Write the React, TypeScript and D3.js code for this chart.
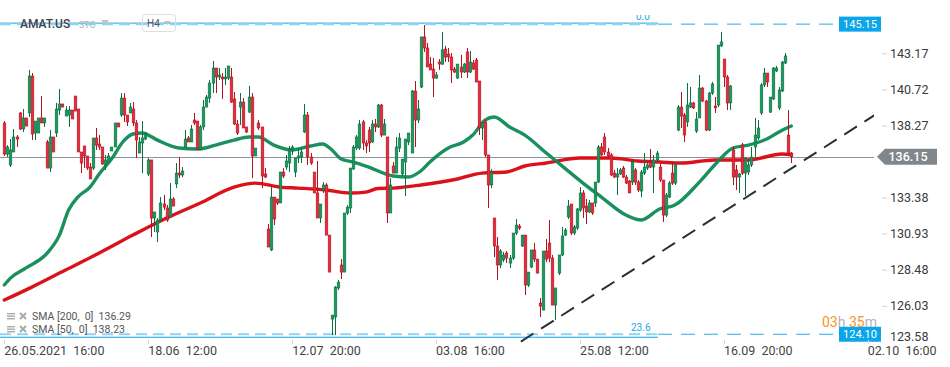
import React, { useRef, useEffect } from 'react';
import * as d3 from 'd3';

// H4 candles, AMAT.US
const opens = [138.44, 136.33, 135.59, 136.47, 137.49, 139.12, 138.03, 138.78, 139.12, 141.63,
  137.76, 137.76, 138.78, 138.44, 137.15, 135.38, 137.49, 137.76, 139.32, 139.73,
  138.91, 138.98, 139.32, 140.27, 139.39, 136.47, 136.88, 136.20, 135.45, 135.38,
  137.42, 137.01, 136.81, 135.59, 135.79, 136.54, 136.81, 138.44, 138.98, 140.13,
  138.98, 139.12, 139.39, 138.44, 136.40, 137.08, 137.35, 134.98, 135.93, 131.99,
  131.04, 131.85, 132.94, 132.67, 132.06, 133.28, 134.30, 135.04, 134.91, 136.81,
  137.42, 137.15, 138.64, 138.57, 136.67, 138.17, 139.52, 140.13, 141.15, 142.17,
  141.56, 141.56, 141.43, 141.49, 141.56, 140.07, 138.37, 139.52, 139.86, 138.17,
  139.18, 140.20, 136.20, 138.44, 138.17, 134.98, 131.24, 129.82, 133.41, 133.28,
  133.01, 135.11, 135.45, 135.72, 136.61, 135.11, 136.06, 136.13, 137.83, 138.98,
  136.13, 135.11, 133.69, 131.99, 133.89, 134.23, 130.83, 125.13, 125.27, 127.24,
  128.80, 128.32, 132.33, 132.67, 135.32, 136.74, 136.74, 138.51, 137.08, 137.96,
  137.15, 138.37, 138.17, 139.66, 137.62, 137.49, 132.33, 135.52, 135.04, 136.74,
  134.98, 135.79, 137.15, 136.40, 140.61, 138.64, 140.88, 144.28, 143.53, 142.44,
  142.10, 141.49, 142.58, 142.44, 143.46, 143.12, 142.92, 142.10, 141.49, 142.24,
  141.90, 143.26, 141.90, 142.51, 142.72, 141.29, 138.10, 138.51, 136.27, 134.23,
  131.99, 130.09, 128.80, 129.14, 129.61, 128.93, 129.27, 130.97, 131.44, 130.09,
  130.83, 127.44, 128.66, 129.82, 129.20, 126.22, 125.74, 129.75, 130.29, 129.27,
  126.08, 128.25, 129.48, 130.83, 132.06, 132.94, 130.97, 131.31, 132.53, 133.69,
  132.80, 132.40, 133.01, 133.01, 134.43, 136.81, 137.49, 136.47, 136.27, 135.04,
  134.77, 134.98, 135.38, 134.77, 134.50, 134.43, 135.25, 134.43, 133.82, 135.04,
  135.38, 135.79, 135.45, 135.93, 135.45, 134.57, 132.19, 133.41, 135.04, 134.36,
  137.96, 139.52, 138.98, 138.51, 139.52, 139.80, 137.89, 138.78, 140.81, 139.93,
  137.96, 140.47, 139.59, 139.66, 143.67, 142.78, 141.56, 139.80, 136.61, 135.25,
  134.77, 136.94, 135.04, 135.11, 135.59, 136.81, 137.42, 139.12, 141.02, 141.83,
  139.18, 140.07, 141.97, 139.46, 140.61, 142.51, 137.62, 136.40];

const highs = [138.57, 136.94, 137.35, 138.03, 137.62, 139.18, 139.39, 138.78, 142.04, 141.83,
  138.57, 138.78, 140.27, 138.78, 137.28, 137.96, 137.49, 139.80, 140.75, 139.73,
  139.59, 139.59, 139.32, 140.27, 139.39, 136.47, 136.88, 136.20, 135.72, 137.42,
  138.10, 137.62, 136.81, 136.27, 136.40, 136.81, 138.44, 138.44, 140.47, 140.47,
  138.98, 139.80, 139.86, 138.64, 137.49, 138.57, 137.83, 136.06, 135.93, 132.40,
  131.99, 133.41, 133.55, 132.87, 134.36, 133.41, 135.72, 136.13, 135.45, 137.96,
  137.56, 138.30, 139.12, 138.57, 138.30, 140.00, 140.34, 141.36, 142.65, 142.17,
  142.17, 141.83, 142.17, 142.31, 142.17, 140.54, 138.64, 140.47, 140.13, 138.17,
  140.95, 140.47, 136.74, 138.64, 138.17, 135.38, 131.58, 134.09, 133.41, 133.28,
  135.11, 135.38, 136.27, 136.88, 136.94, 136.06, 136.74, 136.81, 139.73, 139.18,
  136.40, 135.11, 135.86, 132.94, 134.43, 134.36, 130.83, 125.40, 127.37, 127.78,
  129.20, 132.33, 132.87, 135.38, 136.94, 137.62, 138.64, 138.64, 137.28, 138.17,
  138.64, 138.71, 139.73, 139.73, 138.71, 137.49, 134.70, 135.79, 137.49, 137.76,
  135.99, 137.35, 137.76, 140.68, 141.29, 140.00, 144.28, 145.09, 143.87, 142.92,
  142.85, 141.90, 142.78, 144.62, 143.67, 143.53, 143.19, 142.24, 142.44, 143.06,
  142.51, 143.53, 143.33, 142.72, 142.85, 141.29, 138.51, 138.64, 136.27, 135.32,
  131.99, 130.70, 129.88, 129.68, 129.75, 129.48, 130.97, 131.92, 131.58, 130.83,
  130.83, 128.32, 129.82, 130.29, 129.20, 126.56, 129.75, 130.56, 131.85, 129.48,
  127.24, 129.48, 131.38, 131.31, 133.21, 132.94, 131.51, 132.67, 134.09, 133.89,
  133.28, 133.21, 133.01, 134.43, 136.94, 137.08, 137.76, 136.74, 136.40, 135.25,
  135.38, 135.38, 135.52, 134.91, 134.57, 135.93, 135.38, 134.57, 135.25, 136.40,
  135.72, 136.67, 136.27, 136.54, 135.66, 134.57, 133.69, 134.50, 135.79, 135.72,
  139.66, 140.54, 139.12, 141.15, 140.88, 139.86, 139.18, 141.70, 140.88, 140.00,
  140.54, 141.22, 140.20, 143.73, 144.62, 142.78, 141.70, 141.02, 136.81, 135.59,
  135.04, 137.08, 136.13, 135.93, 136.81, 138.78, 138.64, 141.15, 142.17, 141.83,
  140.20, 142.24, 142.31, 140.88, 142.65, 143.19, 139.32, 136.47];

const lows = [136.20, 136.13, 135.45, 136.47, 136.81, 137.96, 137.83, 138.23, 138.85, 137.28,
  137.28, 137.76, 138.44, 138.17, 135.38, 135.11, 136.47, 137.49, 138.98, 139.52,
  138.91, 138.17, 138.71, 139.25, 136.47, 135.04, 135.38, 135.25, 134.64, 135.25,
  136.61, 136.61, 135.59, 135.25, 135.72, 136.54, 136.81, 138.17, 138.85, 138.51,
  138.23, 139.12, 138.23, 136.06, 136.40, 135.04, 137.28, 134.84, 130.70, 131.04,
  130.36, 131.72, 132.53, 131.72, 132.06, 132.80, 134.02, 134.70, 134.77, 136.81,
  137.15, 137.15, 138.30, 136.61, 136.61, 137.96, 139.52, 139.80, 140.47, 140.47,
  141.36, 140.07, 141.02, 141.36, 139.80, 138.30, 137.62, 138.30, 138.10, 137.76,
  139.12, 134.70, 136.20, 137.96, 134.02, 134.70, 130.02, 129.75, 131.51, 132.87,
  133.01, 134.70, 135.25, 135.11, 136.27, 134.77, 135.72, 135.72, 137.76, 135.59,
  135.59, 133.69, 131.99, 131.65, 133.69, 130.83, 128.32, 124.04, 124.04, 127.10,
  127.85, 128.32, 132.19, 132.33, 135.25, 136.61, 136.61, 136.61, 136.40, 136.47,
  137.08, 137.83, 138.10, 137.49, 137.62, 131.65, 132.33, 135.04, 135.04, 136.47,
  134.84, 133.48, 136.94, 136.40, 136.81, 138.44, 140.81, 143.26, 142.24, 142.04,
  140.20, 141.43, 142.04, 142.38, 142.58, 142.58, 141.15, 141.83, 141.43, 141.49,
  141.83, 141.49, 141.83, 142.04, 141.22, 137.62, 137.28, 136.13, 132.67, 134.02,
  129.34, 127.78, 128.59, 129.00, 128.93, 128.59, 129.14, 130.83, 131.17, 130.02,
  126.76, 127.30, 128.59, 129.00, 128.25, 125.27, 125.74, 129.00, 129.00, 126.08,
  125.06, 128.12, 129.41, 130.77, 131.92, 130.83, 130.83, 131.17, 132.40, 131.99,
  131.58, 132.33, 132.19, 132.73, 134.36, 136.20, 136.27, 136.06, 134.84, 134.70,
  133.55, 134.91, 134.70, 134.30, 133.69, 134.23, 134.23, 133.75, 133.41, 134.91,
  135.25, 135.38, 133.69, 135.79, 134.43, 131.72, 132.06, 133.35, 134.23, 134.23,
  137.89, 138.10, 137.15, 138.17, 139.46, 139.39, 137.76, 138.78, 139.86, 137.89,
  137.89, 140.34, 139.12, 139.52, 143.60, 140.88, 139.32, 139.32, 134.23, 133.89,
  133.69, 134.91, 133.48, 134.91, 135.45, 136.13, 137.28, 138.98, 140.88, 140.88,
  139.12, 140.00, 141.90, 139.32, 140.54, 142.44, 136.27, 135.72];

const closes = [136.33, 136.81, 136.61, 137.49, 137.35, 138.03, 138.78, 138.23, 141.63, 137.69,
  138.57, 138.78, 138.44, 138.78, 135.38, 137.49, 136.47, 139.39, 139.73, 139.52,
  139.32, 139.32, 138.71, 139.25, 136.47, 135.72, 136.20, 135.38, 134.64, 137.42,
  136.94, 136.81, 135.66, 135.93, 136.20, 136.81, 138.44, 138.17, 140.13, 138.98,
  138.51, 139.52, 138.44, 137.28, 137.15, 137.42, 137.69, 135.93, 131.99, 132.40,
  131.85, 133.01, 132.73, 131.85, 133.28, 132.80, 135.04, 134.91, 135.18, 137.35,
  137.15, 138.03, 138.44, 136.67, 138.17, 139.52, 140.20, 141.15, 142.17, 141.56,
  141.70, 141.43, 141.56, 142.31, 139.86, 138.37, 137.76, 139.86, 138.10, 137.83,
  140.20, 136.20, 136.74, 138.10, 134.84, 134.77, 130.02, 133.41, 131.92, 133.01,
  135.11, 134.84, 135.86, 136.67, 136.81, 136.06, 136.20, 136.47, 138.98, 136.13,
  135.72, 133.69, 131.99, 132.94, 134.23, 130.83, 128.32, 125.40, 127.30, 127.64,
  128.32, 132.33, 132.73, 135.38, 136.81, 137.49, 138.37, 137.08, 136.88, 137.08,
  138.37, 138.17, 139.66, 137.62, 138.37, 132.33, 134.23, 135.04, 136.81, 137.42,
  135.99, 137.35, 137.76, 140.61, 138.64, 139.39, 144.28, 143.53, 142.24, 142.04,
  141.49, 141.70, 142.44, 143.40, 142.92, 142.92, 142.04, 141.90, 142.44, 141.90,
  142.44, 141.90, 142.58, 142.10, 141.22, 138.10, 138.44, 136.27, 134.23, 135.11,
  130.09, 128.80, 129.75, 129.48, 129.27, 129.27, 130.97, 131.51, 131.31, 130.83,
  127.44, 128.32, 129.82, 129.20, 128.25, 126.01, 129.75, 129.20, 129.27, 126.08,
  127.24, 129.48, 130.77, 131.17, 132.80, 130.97, 131.38, 132.60, 133.69, 132.67,
  132.40, 133.01, 132.33, 134.43, 136.81, 136.27, 136.47, 136.20, 134.91, 134.77,
  134.98, 135.25, 134.77, 134.36, 133.69, 135.79, 134.43, 133.89, 135.11, 135.45,
  135.59, 135.45, 135.93, 136.40, 134.57, 132.19, 133.55, 134.36, 134.36, 135.59,
  139.52, 138.91, 137.62, 139.66, 139.80, 139.46, 138.71, 140.81, 139.93, 137.96,
  140.47, 141.09, 139.46, 143.73, 143.94, 141.56, 139.80, 140.95, 134.77, 134.77,
  134.98, 135.04, 136.06, 135.59, 136.13, 137.62, 138.10, 141.02, 141.83, 141.22,
  140.20, 142.17, 142.17, 140.68, 142.58, 142.99, 136.40, 136.15];

// SMA readings as [candle index, value]
const sma50 = [[0, 127.44], [2, 127.91], [7, 128.59], [14, 129.61], [18, 130.83], [21, 132.53],
  [24, 133.41], [28, 134.09], [31, 134.98], [35, 135.99], [39, 137.22], [42, 137.69], [45, 137.76],
  [50, 137.28], [57, 136.74], [63, 136.67], [69, 136.94], [75, 137.28], [80, 137.49], [83, 137.49],
  [88, 136.94], [94, 136.61], [100, 136.88], [104, 137.01], [107, 136.61], [110, 135.99], [114, 135.79],
  [119, 135.45], [127, 134.84], [132, 134.77], [136, 135.18], [139, 135.79], [145, 136.74], [150, 137.15],
  [153, 137.62], [157, 138.64], [160, 138.85], [165, 138.17], [170, 137.62], [177, 136.40], [183, 135.38],
  [189, 134.36], [195, 133.41], [203, 132.19], [208, 131.85], [214, 132.60], [219, 132.87], [227, 134.43],
  [232, 135.59], [238, 136.74], [243, 136.94], [249, 137.35], [253, 137.83], [257, 138.23]];

const sma200 = [[0, 126.42], [9, 127.30], [20, 128.46], [31, 129.61], [42, 130.83], [53, 131.99],
  [64, 133.01], [75, 134.09], [82, 134.36], [90, 134.09], [96, 134.02], [105, 133.89], [113, 133.69],
  [118, 133.75], [122, 133.99], [127, 134.02], [136, 134.23], [148, 134.64], [156, 135.04], [164, 135.11],
  [170, 135.52], [177, 135.72], [188, 136.06], [198, 136.06], [207, 135.86], [214, 135.79], [221, 135.72],
  [232, 135.93], [243, 135.93], [254, 136.33], [257, 136.29]];

const priceTicks = [143.17, 140.72, 138.27, 133.38, 130.93, 128.48, 126.03, 123.58];
const dateTicks = [0, 47, 94, 141, 188, 235, 282];
const dateLabels = ['26.05.2021  16:00', '18.06  12:00', '12.07  20:00', '03.08  16:00',
  '25.08  12:00', '16.09  20:00', '02.10  16:00'];
const lastPrice = 136.15;
const levelTop = 145.15;
const levelBottom = 124.10;
const trendLine = [[168.7, 123.60], [286.6, 139.29]];

export default function App() {
  const ref = useRef<SVGSVGElement>(null);

  useEffect(() => {
    const svg = d3.select(ref.current);
    svg.selectAll('*').remove();

    const width = 950;
    const height = 367;
    const font = 'Roboto, "Noto Sans", sans-serif';

    const x = d3.scaleLinear().domain([0, 282]).range([4.3, 867.8]);
    const y = d3.scaleLinear().domain([143.17, 123.58]).range([53.3, 341.9]);

    svg.attr('width', width).attr('height', height).style('font-family', font);
    svg.append('rect').attr('width', width).attr('height', height).attr('fill', '#fff');

    svg.append('defs').append('clipPath').attr('id', 'plot')
      .append('rect').attr('x', 0).attr('y', 15).attr('width', 874).attr('height', 329);

    const plot = svg.append('g').attr('clip-path', 'url(#plot)');

    // fibo style levels (solid) + price level lines (dashed)
    const fiboEnd = 658;
    [levelTop, levelBottom].forEach((lv, k) => {
      const yy = y(lv);
      const solidY = k === 0 ? yy - 1 : yy + 3;
      plot.append('line').attr('x1', 0).attr('x2', fiboEnd)
        .attr('y1', solidY).attr('y2', solidY)
        .attr('stroke', '#10a4ea').attr('stroke-width', 1);
      plot.append('line').attr('x1', 0).attr('x2', fiboEnd)
        .attr('y1', yy).attr('y2', yy)
        .attr('stroke', '#8fd4f6').attr('stroke-width', 2)
        .attr('stroke-dasharray', '11,6');
      plot.append('line').attr('x1', fiboEnd).attr('x2', 838)
        .attr('y1', yy).attr('y2', yy)
        .attr('stroke', '#2aa8e8').attr('stroke-width', 1)
        .attr('stroke-dasharray', '14,9');
    });
    plot.append('text').attr('x', 631).attr('y', y(levelBottom) - 3)
      .attr('font-size', 10).attr('fill', '#1ea6ea').text('23.6');
    plot.append('text').attr('x', 636).attr('y', y(levelTop) - 4)
      .attr('font-size', 10).attr('fill', '#1ea6ea').text('0.0');

    // last price line
    plot.append('line').attr('x1', 0).attr('x2', 878)
      .attr('y1', Math.round(y(lastPrice)) + 0.5).attr('y2', Math.round(y(lastPrice)) + 0.5)
      .attr('stroke', '#8e9499').attr('stroke-width', 1);

    // moving averages
    const line = d3.line<number[]>()
      .x(d => x(d[0]))
      .y(d => y(d[1]))
      .curve(d3.curveMonotoneX);
    plot.append('path').attr('d', line(sma200)).attr('fill', 'none')
      .attr('stroke', '#d8050f').attr('stroke-width', 3.4)
      .attr('stroke-linecap', 'round').attr('stroke-opacity', 0.95);
    plot.append('path').attr('d', line(sma50)).attr('fill', 'none')
      .attr('stroke', '#0f8a56').attr('stroke-width', 3.4)
      .attr('stroke-linecap', 'round').attr('stroke-opacity', 0.95);

    // candles
    const candles = closes.map((c, i) => ({ i, o: opens[i], h: highs[i], l: lows[i], c }));
    const cg = plot.append('g');
    const up = (d: any) => d.c >= d.o;
    cg.selectAll('line.wick').data(candles).join('line')
      .attr('class', 'wick')
      .attr('x1', d => Math.round(x(d.i)) + 0.5).attr('x2', d => Math.round(x(d.i)) + 0.5)
      .attr('y1', d => y(d.h)).attr('y2', d => y(d.l))
      .attr('stroke', d => (up(d) ? '#0c6e41' : '#b3121f')).attr('stroke-width', 1);
    cg.selectAll('rect.body').data(candles).join('rect')
      .attr('class', 'body')
      .attr('x', d => Math.round(x(d.i)) - 0.8)
      .attr('width', 2.6)
      .attr('y', d => y(Math.max(d.o, d.c)))
      .attr('height', d => Math.max(1, Math.abs(y(d.o) - y(d.c))))
      .attr('fill', d => (up(d) ? '#1b9a60' : '#e52c3c'))
      .attr('stroke', d => (up(d) ? '#0c6e41' : '#b3121f'))
      .attr('stroke-width', 0.6);

    // trend line
    plot.append('line')
      .attr('x1', x(trendLine[0][0])).attr('y1', y(trendLine[0][1]))
      .attr('x2', x(trendLine[1][0])).attr('y2', y(trendLine[1][1]))
      .attr('stroke', '#2b2f33').attr('stroke-width', 2)
      .attr('stroke-dasharray', '15,9');

    // price axis
    const axis = svg.append('g');
    priceTicks.forEach(t => {
      const ty = Math.min(y(t), 336);
      if (y(t) < 338) {
        axis.append('line').attr('x1', 882).attr('x2', 887)
          .attr('y1', ty + 0.5).attr('y2', ty + 0.5).attr('stroke', '#d4d4d4');
      }
      axis.append('text').attr('x', 890).attr('y', ty).attr('dy', '0.36em')
        .attr('font-size', 12.5).attr('fill', '#3a3a3a').text(t.toFixed(2));
    });

    // blue price level labels
    [levelTop, levelBottom].forEach(lv => {
      const yy = y(lv);
      axis.append('rect').attr('x', 839).attr('y', yy - 7.5).attr('width', 42).attr('height', 15)
        .attr('fill', '#0ba5ea');
      axis.append('text').attr('x', 860).attr('y', yy).attr('dy', '0.36em')
        .attr('text-anchor', 'middle').attr('font-size', 11).attr('fill', '#fff')
        .text(lv.toFixed(2));
    });

    // last price tag
    const ly = y(lastPrice);
    axis.append('path')
      .attr('d', `M877,${ly} L885,${ly - 8} L937,${ly - 8} L937,${ly + 8} L885,${ly + 8} Z`)
      .attr('fill', '#7f878c');
    axis.append('text').attr('x', 908).attr('y', ly).attr('dy', '0.36em')
      .attr('text-anchor', 'middle').attr('font-size', 12.5).attr('font-weight', 500)
      .attr('fill', '#fff').text(lastPrice.toFixed(2));

    // date axis
    dateTicks.forEach((t, k) => {
      const tx = Math.round(x(t)) + 0.5;
      svg.append('line').attr('x1', tx).attr('x2', tx).attr('y1', 340).attr('y2', 344)
        .attr('stroke', '#d4d4d4');
      svg.append('text').attr('x', x(t)).attr('y', 355)
        .attr('font-size', 12.5).attr('fill', '#444')
        .attr('xml:space', 'preserve').style('white-space', 'pre')
        .text(dateLabels[k]);
    });

    // countdown
    const cd = svg.append('text').attr('x', 822).attr('y', 327).attr('font-size', 14);
    cd.append('tspan').attr('fill', '#f7931e').text('03');
    cd.append('tspan').attr('fill', '#b5b5b5').text('h ');
    cd.append('tspan').attr('fill', '#f7931e').text('35');
    cd.append('tspan').attr('fill', '#b5b5b5').text('m');

    // legend
    const legend = [['SMA [200,  0]  ', sma200[sma200.length - 1][1]], ['SMA [50,  0]  ', sma50[sma50.length - 1][1]]];
    legend.forEach((d, k) => {
      const ly0 = 319 + k * 13;
      const g = svg.append('g');
      [0, 2.5, 5].forEach(o => {
        g.append('rect').attr('x', 7).attr('y', ly0 - 6 + o).attr('width', 8).attr('height', 1.4)
          .attr('fill', '#a9a9a9');
      });
      g.append('path').attr('d', `M20,${ly0 - 6} L26,${ly0} M26,${ly0 - 6} L20,${ly0}`)
        .attr('stroke', '#a9a9a9').attr('stroke-width', 2);
      g.append('text').attr('x', 32).attr('y', ly0 + 1).attr('font-size', 10.5).attr('fill', '#555')
        .style('white-space', 'pre').text(`${d[0]}${(d[1] as number).toFixed(2)}`);
    });

    // header
    const head = svg.append('g');
    head.append('text').attr('x', 20).attr('y', 28).attr('font-size', 12).attr('font-weight', 500)
      .attr('fill', '#444').text('AMAT.US');
    head.append('text').attr('x', 79).attr('y', 28).attr('font-size', 9).attr('fill', '#b0b0b0').text('STC');
    head.append('path').attr('d', 'M101,20 L109,20 L105,25 Z').attr('fill', '#c2c2c2');
    head.append('rect').attr('x', 142.5).attr('y', 14.5).attr('width', 33).attr('height', 17).attr('rx', 3)
      .attr('fill', 'none').attr('stroke', '#dedede');
    head.append('text').attr('x', 147).attr('y', 27).attr('font-size', 10).attr('fill', '#555').text('H4');
    head.append('path').attr('d', 'M164,21 L171,21 L167.5,25 Z').attr('fill', '#c2c2c2');
  }, []);

  return <svg ref={ref} style={{ position: 'absolute', left: 0, top: 0, display: 'block' }} />;
}
